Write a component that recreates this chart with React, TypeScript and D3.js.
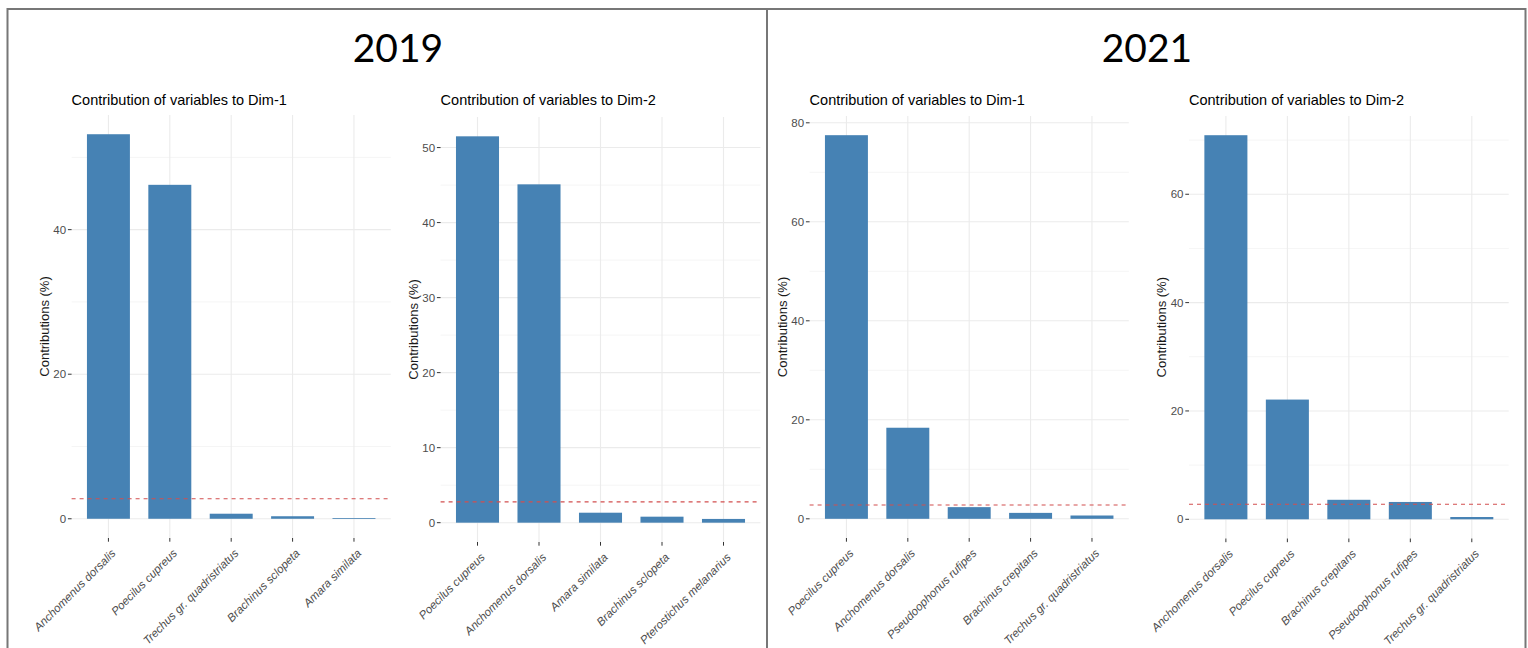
import React from "react";
import * as d3 from "d3";

// ---------- data ----------
const years = ["2019", "2021"];

const p1Cats = ["Anchomenus dorsalis", "Poecilus cupreus", "Trechus gr. quadristriatus", "Brachinus sclopeta", "Amara similata"];
const p1Vals = [53.2, 46.2, 0.7, 0.35, 0.1];
const p1Ticks = [0, 20, 40];

const p2Cats = ["Poecilus cupreus", "Anchomenus dorsalis", "Amara similata", "Brachinus sclopeta", "Pterostichus melanarius"];
const p2Vals = [51.5, 45.1, 1.33, 0.8, 0.5];
const p2Ticks = [0, 10, 20, 30, 40, 50];

const p3Cats = ["Poecilus cupreus", "Anchomenus dorsalis", "Pseudoophonus rufipes", "Brachinus crepitans", "Trechus gr. quadristriatus"];
const p3Vals = [77.5, 18.4, 2.36, 1.2, 0.67];
const p3Ticks = [0, 20, 40, 60, 80];

const p4Cats = ["Anchomenus dorsalis", "Poecilus cupreus", "Brachinus crepitans", "Pseudoophonus rufipes", "Trechus gr. quadristriatus"];
const p4Vals = [70.9, 22.1, 3.6, 3.2, 0.42];
const p4Ticks = [0, 20, 40, 60];

const refLine = 2.78; // expected average contribution
const panelTitles = ["Contribution of variables to Dim-1", "Contribution of variables to Dim-2"];
const yTitle = "Contributions (%)";

// ---------- layout ----------
const W = 1528;
const H = 648;
const frames = [
  { left: 71.6, right: 390.8, top: 115, bottom: 538 },
  { left: 440.6, right: 760.4, top: 117, bottom: 542 },
  { left: 809.6, right: 1128.8, top: 116, bottom: 538 },
  { left: 1189, right: 1508.7, top: 116, bottom: 538.5 },
];
const panels = [
  { cats: p1Cats, vals: p1Vals, ticks: p1Ticks, title: panelTitles[0] },
  { cats: p2Cats, vals: p2Vals, ticks: p2Ticks, title: panelTitles[1] },
  { cats: p3Cats, vals: p3Vals, ticks: p3Ticks, title: panelTitles[0] },
  { cats: p4Cats, vals: p4Vals, ticks: p4Ticks, title: panelTitles[1] },
];

const BAR = "#4682B4";
const GRID = "#ebebeb";
const AXIS_TXT = "#4d4d4d";
const FONT = "Liberation Sans, Arial, sans-serif";

function Panel({ p, f }: { p: any; f: any }) {
  const max = d3.max(p.vals as number[]) as number;
  const y = d3.scaleLinear().domain([-0.05 * max, 1.05 * max]).range([f.bottom, f.top]);
  // ggplot discrete scale: 0.6 expansion each side, bar width 0.7
  const x = d3
    .scalePoint<string>()
    .domain(p.cats)
    .range([f.left, f.right])
    .padding(0.6);
  const step = x.step();
  const bw = 0.7 * step;
  const majors: number[] = p.ticks;
  const tstep = majors[1] - majors[0];
  const minors: number[] = [];
  for (let v = majors[0] + tstep / 2; v <= 1.05 * max; v += tstep) minors.push(v);
  const mid = (f.top + f.bottom) / 2;
  return (
    <g>
      {minors.map((v) => (
        <line key={"mn" + v} x1={f.left} x2={f.right} y1={y(v)} y2={y(v)} stroke="#f2f2f2" strokeWidth={0.8} />
      ))}
      {majors.map((v) => (
        <line key={"mj" + v} x1={f.left} x2={f.right} y1={y(v)} y2={y(v)} stroke={GRID} strokeWidth={1.1} />
      ))}
      {p.cats.map((c: string) => (
        <line key={"vg" + c} x1={x(c)} x2={x(c)} y1={f.top} y2={f.bottom} stroke={GRID} strokeWidth={1.1} />
      ))}
      {p.vals.map((v: number, i: number) => (
        <rect key={"b" + i} x={(x(p.cats[i]) as number) - bw / 2} width={bw} y={y(v)} height={Math.max(0.8, y(0) - y(v))} fill={BAR} />
      ))}
      <line x1={f.left} x2={f.right} y1={y(refLine)} y2={y(refLine)} stroke="#d24f4f" strokeWidth={1.1} strokeDasharray="4,4" />
      {majors.map((v) => (
        <g key={"yt" + v}>
          <line x1={f.left - 3.7} x2={f.left} y1={y(v)} y2={y(v)} stroke="#333" strokeWidth={1} />
          <text x={f.left - 5.5} y={y(v)} dy="0.35em" textAnchor="end" fontSize={11.5} fill={AXIS_TXT} fontFamily={FONT}>
            {v}
          </text>
        </g>
      ))}
      {p.cats.map((c: string) => (
        <g key={"xt" + c}>
          <line x1={x(c)} x2={x(c)} y1={f.bottom} y2={f.bottom + 3.7} stroke="#333" strokeWidth={1} />
          <text
            transform={`translate(${(x(c) as number) + 8},${f.bottom + 16}) rotate(-45)`}
            textAnchor="end"
            fontSize={11.5}
            fontStyle="italic"
            fill={AXIS_TXT}
            fontFamily={FONT}
          >
            {c}
          </text>
        </g>
      ))}
      <text
        transform={`translate(${f.left - 23},${mid}) rotate(-90)`}
        textAnchor="middle"
        fontSize={13}
        fill="#1a1a1a"
        fontFamily={FONT}
      >
        {yTitle}
      </text>
      <text x={f.left} y={105} fontSize={14.5} fill="#000" fontFamily={FONT}>
        {p.title}
      </text>
    </g>
  );
}

export default function App() {
  return (
    <svg width={W} height={H} style={{ position: "absolute", left: 0, top: 0, background: "#fff" }}>
      <rect x={0} y={0} width={W} height={H} fill="#fff" />
      {/* outer boxes */}
      <line x1={7.5} x2={1525.5} y1={9} y2={9} stroke="#777" strokeWidth={2} />
      <line x1={7.5} x2={7.5} y1={8} y2={H} stroke="#777" strokeWidth={2} />
      <line x1={767} x2={767} y1={8} y2={H} stroke="#777" strokeWidth={2} />
      <line x1={1525.5} x2={1525.5} y1={8} y2={H} stroke="#777" strokeWidth={2} />
      {years.map((yr, i) => (
        <text key={yr} x={i === 0 ? 398 : 1147} y={62} textAnchor="middle" fontSize={39} fill="#000" fontFamily="Lato, 'Open Sans', sans-serif">
          {yr}
        </text>
      ))}
      {panels.map((p, i) => (
        <Panel key={i} p={p} f={frames[i]} />
      ))}
    </svg>
  );
}
